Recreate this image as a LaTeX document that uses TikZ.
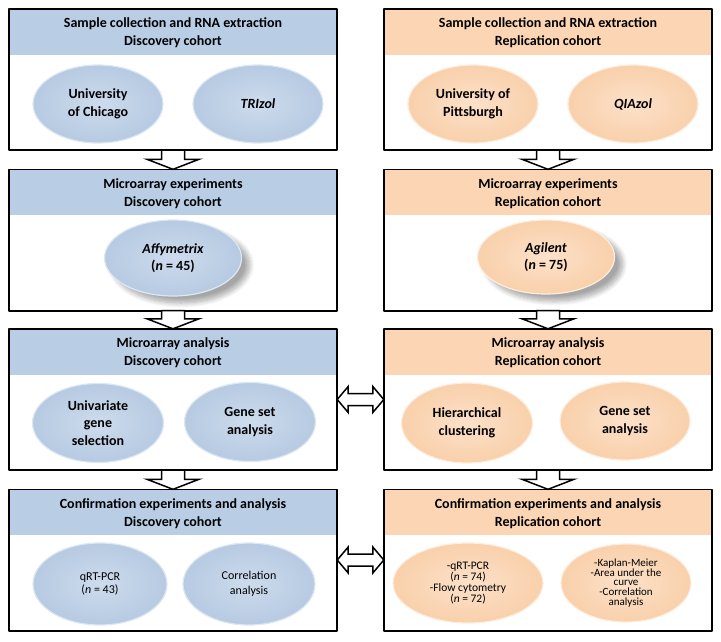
\documentclass[tikz,border=0pt]{standalone}
\usepackage{fontspec}
\setmainfont{Carlito}
\usetikzlibrary{calc,shapes.geometric,shadows.blur}

\definecolor{bluehead}{HTML}{B9CDE5}
\definecolor{blueoval}{HTML}{B6CAE2}
\definecolor{bluerim}{HTML}{DDE7F3}
\definecolor{orangehead}{HTML}{FCD5B5}
\definecolor{orangeoval}{HTML}{F9D0AB}
\definecolor{orangerim}{HTML}{FEECDD}

\tikzset{
  panel/.style={minimum width=328pt, minimum height=141pt, inner sep=0pt},
  frame/.style={line width=1.6pt},
  headtext/.style={font=\fontsize{14}{18}\selectfont\bfseries, align=center, inner sep=0pt},
  oval/.style={ellipse, minimum width=130pt, minimum height=78pt, inner sep=0pt, align=center,
    font=\fontsize{14}{17.5}\selectfont\bfseries, line width=1.2pt},
  blueoval/.style={oval, inner color=bluerim!60!blueoval, outer color=blueoval, draw=bluerim},
  orangeoval/.style={oval, inner color=orangerim!60!orangeoval, outer color=orangeoval, draw=orangerim},
  castshadow/.style={blur shadow={shadow xshift=8pt, shadow yshift=-7pt, shadow opacity=35,
    shadow blur steps=10, shadow blur radius=5pt}},
  downarrow/.style={draw, line width=1.5pt, fill=white, line join=miter, to path={
    ($(\tikztostart)+(-11.5,0)$) -- ($(\tikztotarget)+(-11.5,-10)$) -- ($(\tikztotarget)+(-26,-10)$)
    -- (\tikztotarget) -- ($(\tikztotarget)+(26,-10)$) -- ($(\tikztotarget)+(11.5,-10)$)
    -- ($(\tikztostart)+(11.5,0)$) -- cycle}},
  twoway/.style={draw, line width=1.5pt, fill=white, line join=miter, to path={
    (\tikztostart) -- ($(\tikztostart)+(11,-13)$) -- ($(\tikztostart)+(11,-6)$)
    -- ($(\tikztotarget)+(-11,-6)$) -- ($(\tikztotarget)+(-11,-13)$) -- (\tikztotarget)
    -- ($(\tikztotarget)+(-11,13)$) -- ($(\tikztotarget)+(-11,6)$)
    -- ($(\tikztostart)+(11,6)$) -- ($(\tikztostart)+(11,13)$) -- cycle}}
}

\begin{document}
\begin{tikzpicture}[x=1pt, y=-1pt, line join=round]
  \useasboundingbox (0,0) rectangle (721,641);

  % panels
  \node[panel] (disA) at (173,79.5) {};
  \node[panel] (disB) at (173,240) {};
  \node[panel] (disC) at (173,399.5) {};
  \node[panel] (disD) at (173,560) {};
  \node[panel] (repA) at (548,79.5) {};
  \node[panel] (repB) at (548,240) {};
  \node[panel] (repC) at (548,399.5) {};
  \node[panel] (repD) at (548,560) {};

  % header bands and frames
  \foreach \p in {disA,disB,disC,disD}
    \fill[bluehead] (\p.north west) rectangle ($(\p.north east)+(0,46)$);
  \foreach \p in {repA,repB,repC,repD}
    \fill[orangehead] (\p.north west) rectangle ($(\p.north east)+(0,46)$);
  \foreach \p in {disA,disB,disC,disD,repA,repB,repC,repD}
    \draw[frame] (\p.north west) rectangle (\p.south east);

  % headings
  \node[headtext] (disAt) at ($(disA.north)+(0,24)$) {Sample collection and RNA extraction\\Discovery cohort};
  \node[headtext] (disBt) at ($(disB.north)+(0,24)$) {Microarray experiments\\Discovery cohort};
  \node[headtext] (disCt) at ($(disC.north)+(0,24)$) {Microarray analysis\\Discovery cohort};
  \node[headtext] (disDt) at ($(disD.north)+(0,24)$) {Confirmation experiments and analysis\\Discovery cohort};
  \node[headtext] (repAt) at ($(repA.north)+(0,24)$) {Sample collection and RNA extraction\\Replication cohort};
  \node[headtext] (repBt) at ($(repB.north)+(0,24)$) {Microarray experiments\\Replication cohort};
  \node[headtext] (repCt) at ($(repC.north)+(0,24)$) {Microarray analysis\\Replication cohort};
  \node[headtext] (repDt) at ($(repD.north)+(0,24)$) {Confirmation experiments and analysis\\Replication cohort};

  % discovery cohort ovals
  \node[blueoval] (chicago) at (98,104) {University\\of Chicago};
  \node[blueoval] (trizol) at (258,104) {\textit{TRIzol}};
  \node[blueoval, castshadow, minimum width=137pt, minimum height=76pt] (affy) at (173,258)
    {\textit{Affymetrix}\\(\textit{n} = 45)};
  \node[blueoval, minimum width=131pt, minimum height=79pt] (univar) at (98,423) {Univariate\\gene\\selection};
  \node[blueoval, minimum width=131pt, minimum height=79pt] (genesetL) at (250,422) {Gene set\\analysis};
  \node[blueoval, minimum width=134pt, minimum height=82pt,
    font=\fontsize{12}{13}\selectfont] (pcrL) at (100,584) {qRT-PCR\\(\textit{n} = 43)};
  \node[blueoval, minimum width=132pt, minimum height=82pt,
    font=\fontsize{12}{14.5}\selectfont] (corrL) at (249,584) {Correlation\\analysis};

  % replication cohort ovals
  \node[orangeoval] (pitt) at (473,104) {University of\\Pittsburgh};
  \node[orangeoval] (qiazol) at (633,104) {\textit{QIAzol}};
  \node[orangeoval, castshadow, minimum width=137pt, minimum height=74pt] (agilent) at (546,257)
    {\textit{Agilent}\\(\textit{n} = 75)};
  \node[orangeoval, minimum width=131pt, minimum height=80pt] (hier) at (467,423) {Hierarchical\\clustering};
  \node[orangeoval, minimum width=130pt, minimum height=78pt] (genesetR) at (625,421) {Gene set\\analysis};
  \node[orangeoval, minimum width=150pt, minimum height=80pt,
    font=\fontsize{11.5}{10.8}\selectfont] (pcrR) at (468,583)
    {-qRT-PCR\\(\textit{n} = 74)\\-Flow cytometry\\(\textit{n} = 72)};
  \node[orangeoval, minimum width=130pt, minimum height=78pt,
    font=\fontsize{11}{9.8}\selectfont] (kaplan) at (626,583)
    {-Kaplan-Meier\\-Area under the\\curve\\-Correlation\\analysis};

  % arrows between steps
  \draw[downarrow] (disA.south) to (disB.north);
  \draw[downarrow] (disB.south) to (disC.north);
  \draw[downarrow] (disC.south) to (disD.north);
  \draw[downarrow] (repA.south) to (repB.north);
  \draw[downarrow] (repB.south) to (repC.north);
  \draw[downarrow] (repC.south) to (repD.north);
  \draw[twoway] (disC.east) to (repC.west);
  \draw[twoway] (disD.east) to (repD.west);
\end{tikzpicture}
\end{document}
